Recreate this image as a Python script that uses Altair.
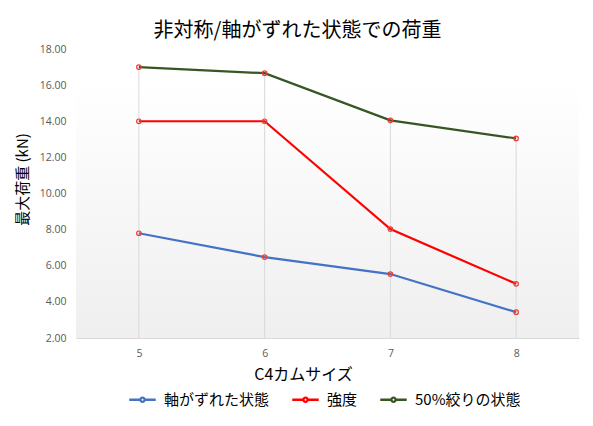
import altair as alt
import pandas as pd

sizes = ["5", "6", "7", "8"]
series_names = ["軸がずれた状態", "強度", "50%絞りの状態"]
off_axis = [7.8, 6.48, 5.54, 3.43]
strength = [14.0, 14.0, 8.03, 5.0]
half_cam = [17.0, 16.66, 14.05, 13.05]
colors = ["#4472C4", "#FF0000", "#375623"]
y_ticks = [2, 4, 6, 8, 10, 12, 14, 16, 18]

rows = []
for name, vals in zip(series_names, [off_axis, strength, half_cam]):
    for s, v in zip(sizes, vals):
        rows.append({"size": s, "series": name, "value": v})
df = pd.DataFrame(rows)

JP = "Noto Sans CJK JP"
NUM = "Open Sans"
W, H = 503, 289

x_enc = alt.X(
    "size:O",
    sort=sizes,
    scale=alt.Scale(type="point", padding=0.5),
    axis=alt.Axis(
        title="C4カムサイズ",
        labelAngle=0,
        labelFont=NUM,
        labelFontSize=10.5,
        labelColor="#595959",
        labelPadding=10,
        ticks=False,
        domain=True,
        domainColor="#d9d9d9",
        grid=False,
        titleFont=JP,
        titleFontSize=16,
        titleFontWeight="normal",
        titleColor="#000000",
        titlePadding=8,
        titleX=227,
    ),
)
y_scale = alt.Scale(domain=[2, 18], nice=False, zero=False)
y_axis = alt.Axis(
    title="最大荷重 (kN)",
    values=y_ticks,
    format=".2f",
    labelFont=NUM,
    labelFontSize=10.5,
    labelColor="#595959",
    labelPadding=10,
    ticks=False,
    domain=False,
    grid=False,
    titleFont=JP,
    titleFontSize=15,
    titleFontWeight="normal",
    titleColor="#000000",
    titlePadding=9,
    titleY=130,
)

bg = (
    alt.Chart(df)
    .transform_aggregate(n="count()")
    .mark_rect(
        fill=alt.Gradient(
            gradient="linear",
            x1=0, y1=0, x2=0, y2=1,
            stops=[
                alt.GradientStop(offset=0, color="#ffffff"),
                alt.GradientStop(offset=0.12, color="#ffffff"),
                alt.GradientStop(offset=1, color="#efefef"),
            ],
        )
    )
    .encode(x=alt.value(0), x2=alt.value(W), y=alt.value(0), y2=alt.value(H))
)

drop = (
    alt.Chart(df)
    .transform_aggregate(vmax="max(value)", groupby=["size"])
    .mark_rule(color="#d9d9d9", strokeWidth=1)
    .encode(x=x_enc, y=alt.Y("vmax:Q", scale=y_scale, axis=y_axis), y2=alt.datum(2))
)

legend_path = "M-1,0L-0.16,0M0.16,0L1,0M-0.16,0A0.16,0.16 0 1,0 0.16,0A0.16,0.16 0 1,0 -0.16,0"

lines = (
    alt.Chart(df)
    .mark_line(strokeWidth=2.2)
    .encode(
        x=x_enc,
        y=alt.Y("value:Q", scale=y_scale, axis=y_axis),
        color=alt.Color(
            "series:N",
            sort=series_names,
            scale=alt.Scale(domain=series_names, range=colors),
            legend=alt.Legend(
                title=None,
                orient="none",
                legendX=52,
                legendY=336,
                direction="horizontal",
                symbolType=legend_path,
                symbolSize=700,
                symbolStrokeWidth=2.4,
                labelFont=JP,
                labelFontSize=15,
                labelColor="#000000",
                columnPadding=17,
                labelOffset=7,
            ),
        ),
        detail="series:N",
    )
)

points = (
    alt.Chart(df)
    .mark_point(shape="circle", filled=False, stroke="#E8403A", strokeWidth=1.2, size=20, opacity=1)
    .encode(x=x_enc, y=alt.Y("value:Q", scale=y_scale, axis=y_axis), detail="series:N")
)

chart = (
    alt.layer(bg, drop, lines, points)
    .properties(
        width=W,
        height=H,
        title=alt.TitleParams(
            "非対称/軸がずれた状態での荷重",
            font=JP,
            fontSize=20,
            fontWeight="normal",
            color="#000000",
            anchor="middle",
            dx=-30,
            offset=3,
        ),
        padding={"left": 7, "top": 13, "right": 4, "bottom": 4},
        background="#ffffff",
    )
    .configure_view(stroke=None)
)

chart.save("out.html", embed_options={"renderer": "svg", "actions": False})
